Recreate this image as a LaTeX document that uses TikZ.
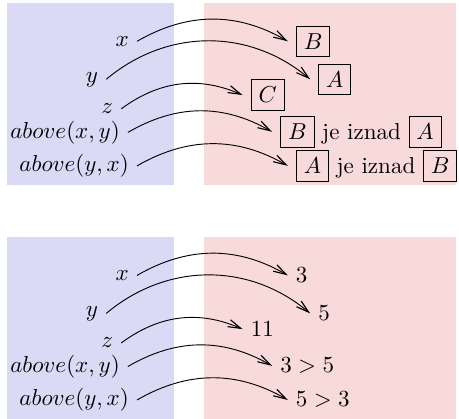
\documentclass[tikz,border=0pt]{standalone}
\usepackage{amsmath,amssymb}
\usepackage{tikz}
\usetikzlibrary{arrows.meta,positioning}
\definecolor{Ink}{HTML}{000000}
\definecolor{DomainSoft}{HTML}{DADAF7}
\definecolor{RangeSoft}{HTML}{F9DADB}
\newcommand{\kutija}[1]{\fbox{$#1$}}
\tikzset{
  src/.style={anchor=east,text=Ink},
  tgt/.style={anchor=west,text=Ink},
  domainbox/.style={fill=DomainSoft},
  rangebox/.style={fill=RangeSoft},
  maparrow/.style={-{Straight Barb[length=5.5pt,width=3.2pt,line width=0.5pt]},draw=Ink}
}

\begin{document}
\begin{tikzpicture}
\useasboundingbox (0,0) rectangle (7,6.39);
% gornji dio: predmeti
\begin{scope}[yshift=3.57cm]
\fill[domainbox] (0.1,0) rectangle (2.65,2.77);
\fill[rangebox] (3.11,0) rectangle (6.95,2.77);
\node[src] (x1) at (2.09,2.19) {$x$};
\node[src] (y1) at (1.62,1.61) {$y$};
\node[src] (z1) at (1.85,1.16) {$z$};
\node[src] (axy1) at (1.95,0.80) {$above(x,y)$};
\node[src] (ayx1) at (2.09,0.29) {$above(y,x)$};
\node[tgt] (tB) at (4.39,2.19) {\kutija{B}};
\node[tgt] (tA) at (4.73,1.61) {\kutija{A}};
\node[tgt] (tC) at (3.70,1.37) {\kutija{C}};
\node[tgt] (tBA) at (4.15,0.81) {\kutija{B} je iznad \kutija{A}};
\node[tgt] (tAB) at (4.39,0.29) {\kutija{A} je iznad \kutija{B}};
\draw[maparrow] (x1.east) to[bend left=30] (tB.west);
\draw[maparrow] (y1.east) to[bend left=40] (tA.west);
\draw[maparrow] (z1.east) to[bend left=30] (tC.west);
\draw[maparrow] (axy1.east) to[bend left=30] (tBA.west);
\draw[maparrow] (ayx1.east) to[bend left=30] (tAB.west);
\end{scope}
% donji dio: brojevi
\fill[domainbox] (0.1,0) rectangle (2.65,2.77);
\fill[rangebox] (3.11,0) rectangle (6.95,2.77);
\node[src] (x2) at (2.09,2.19) {$x$};
\node[src] (y2) at (1.62,1.61) {$y$};
\node[src] (z2) at (1.85,1.16) {$z$};
\node[src] (axy2) at (1.95,0.80) {$above(x,y)$};
\node[src] (ayx2) at (2.09,0.29) {$above(y,x)$};
\node[tgt] (n3) at (4.39,2.19) {$3$};
\node[tgt] (n5) at (4.73,1.61) {$5$};
\node[tgt] (n11) at (3.70,1.37) {$11$};
\node[tgt] (n35) at (4.15,0.81) {$3>5$};
\node[tgt] (n53) at (4.39,0.29) {$5>3$};
\draw[maparrow] (x2.east) to[bend left=30] (n3.west);
\draw[maparrow] (y2.east) to[bend left=40] (n5.west);
\draw[maparrow] (z2.east) to[bend left=30] (n11.west);
\draw[maparrow] (axy2.east) to[bend left=30] (n35.west);
\draw[maparrow] (ayx2.east) to[bend left=30] (n53.west);
\end{tikzpicture}
\end{document}
